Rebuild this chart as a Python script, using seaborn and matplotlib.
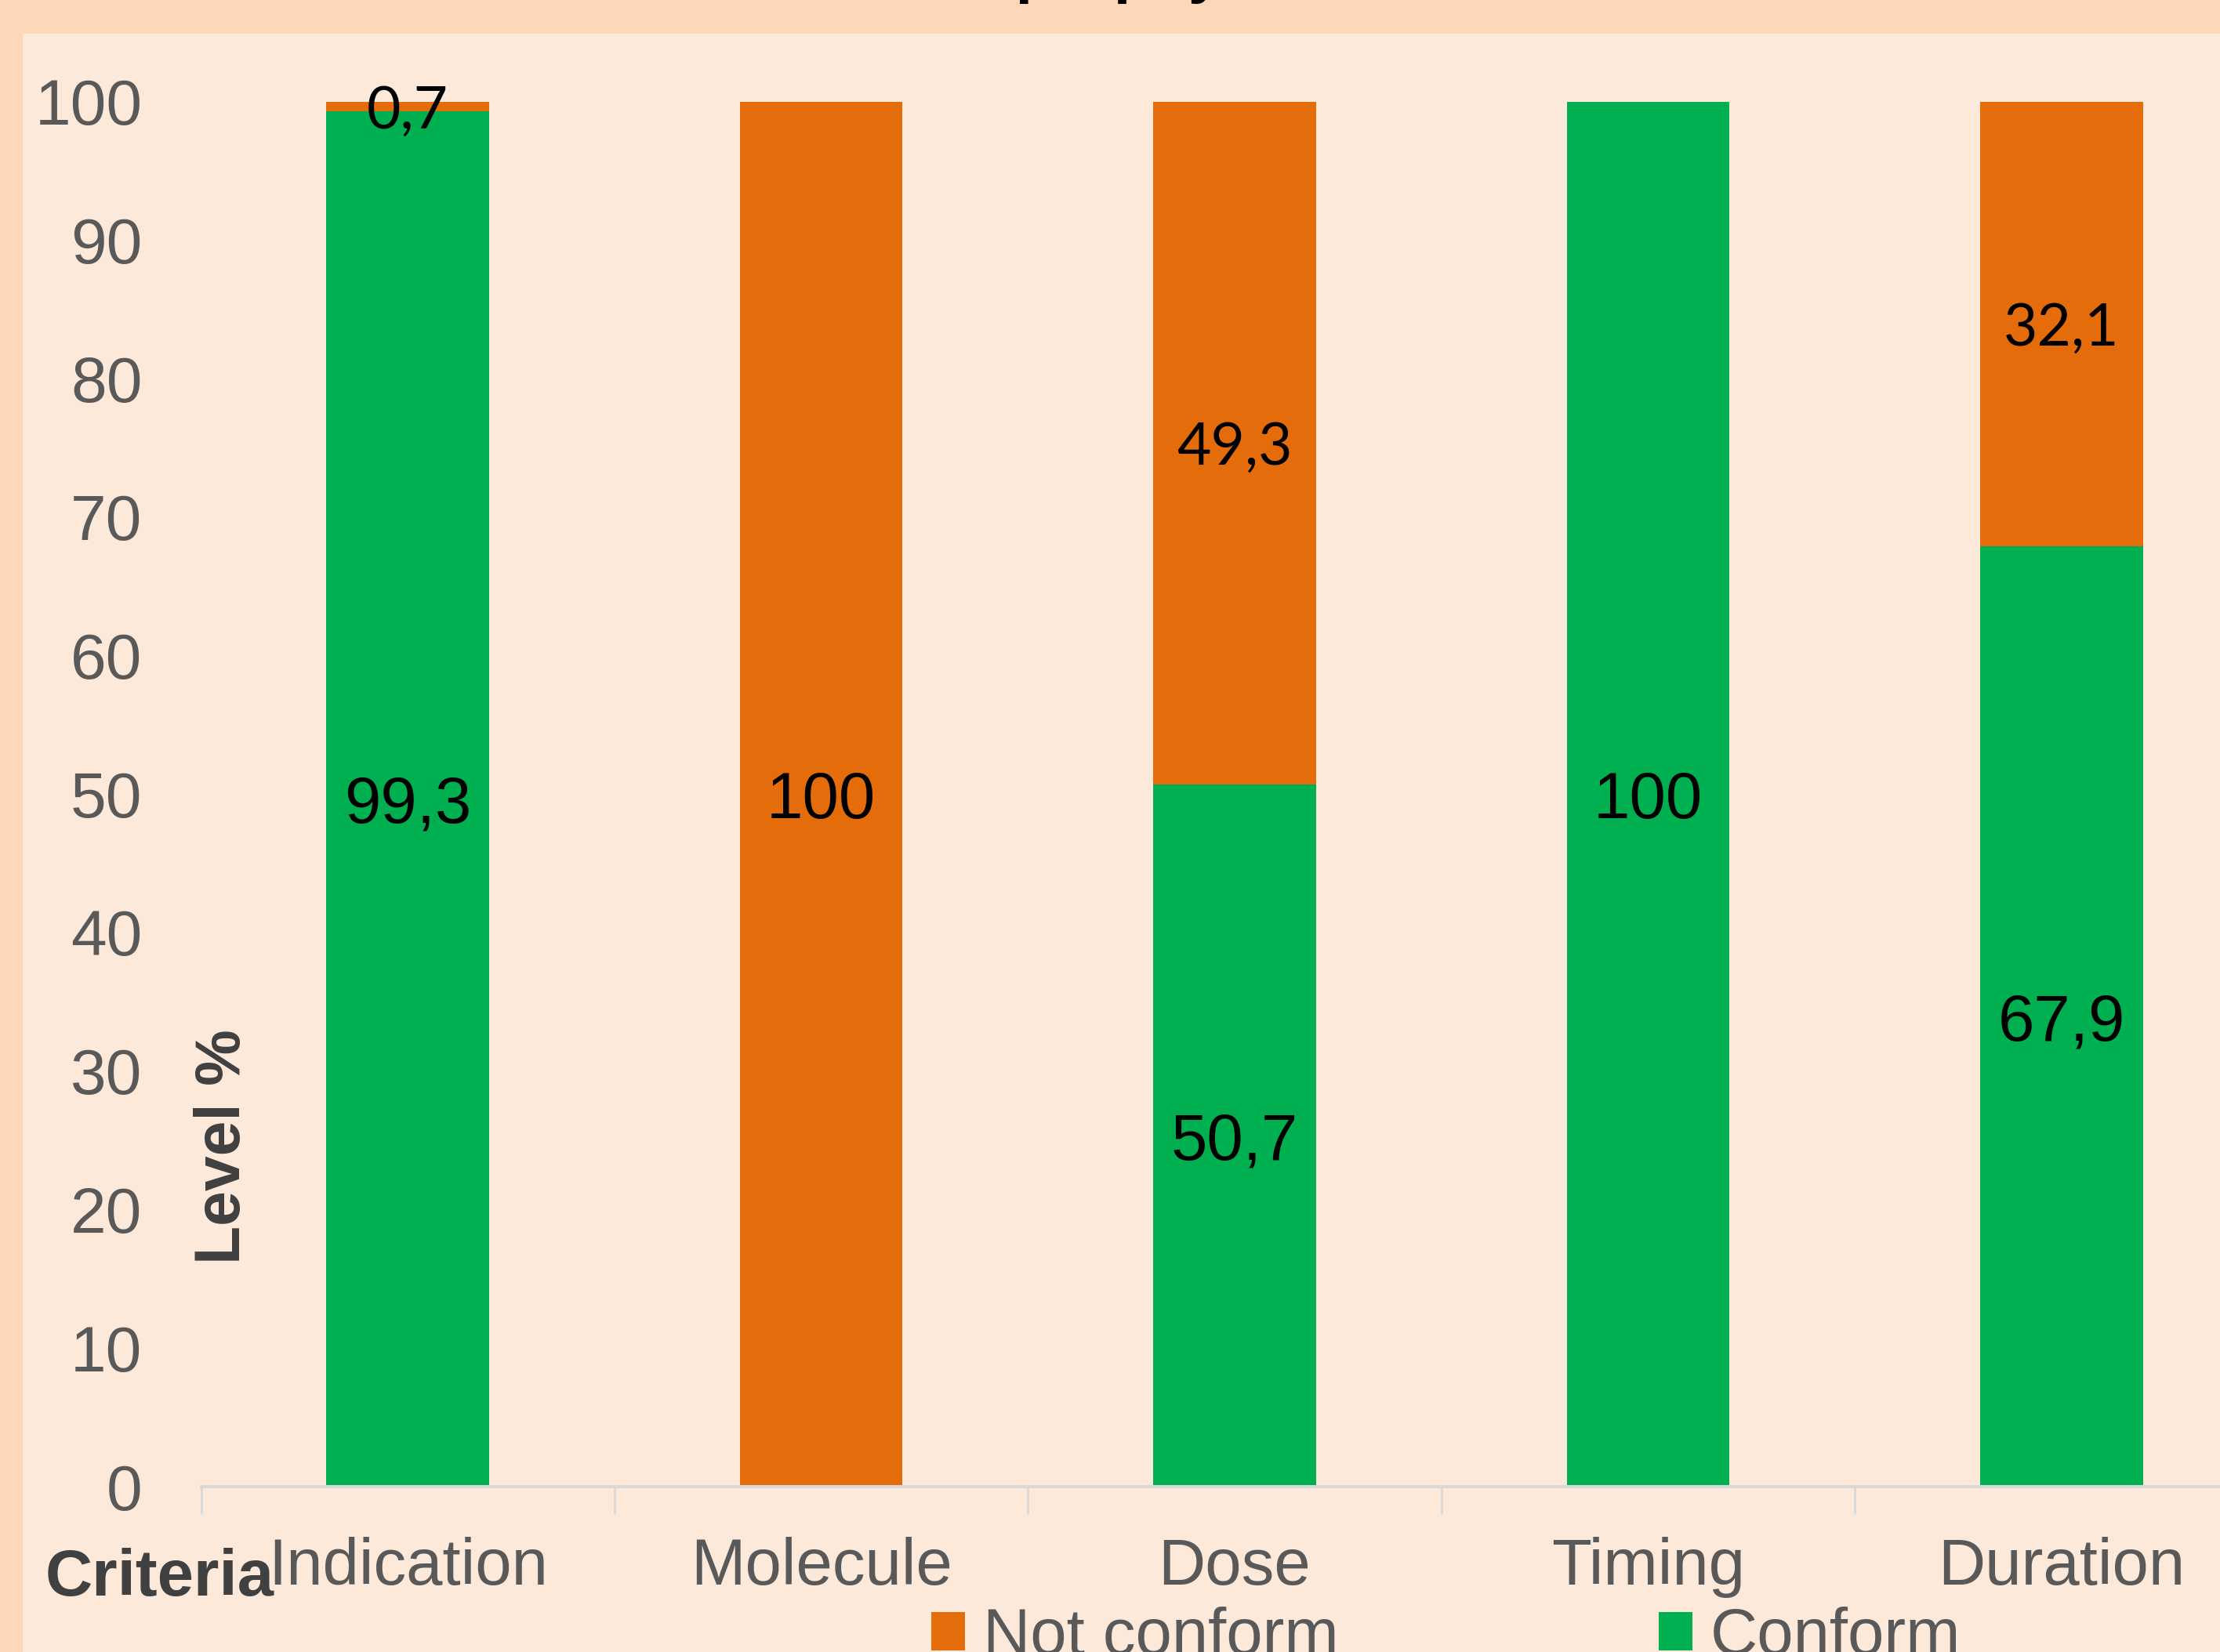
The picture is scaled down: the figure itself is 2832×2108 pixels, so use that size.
import numpy as np
import pandas as pd
import matplotlib
matplotlib.use("Agg")
import matplotlib.pyplot as plt
import seaborn as sns
from matplotlib.patches import Rectangle

# ---------------- data ----------------
categories = ["Indication", "Molecule", "Dose", "Timing", "Duration"]
conform = [99.3, 0.0, 50.7, 100.0, 67.9]
not_conform = [0.7, 100.0, 49.3, 0.0, 32.1]
series_names = ["Not conform", "Conform"]
y_ticks = [0, 10, 20, 30, 40, 50, 60, 70, 80, 90, 100]
title_text = "Antibioprophylaxis"
x_title = "Criteria"
y_title = "Level %"

# ---------------- style ----------------
BAND = "#FCD8B8"
BG = "#FDE9DA"
ORANGE = "#E46C0A"
GREEN = "#00B050"
TICK_GREY = "#595959"
AXIS_GREY = "#D9D9D9"
DARK = "#404040"

sns.set_theme(style="white")
plt.rcParams["font.family"] = ["Liberation Sans", "DejaVu Sans"]

W, H = 2832, 2108
DPI = 200
fig = plt.figure(figsize=(W / DPI, H / DPI), dpi=DPI, facecolor=BAND)
bg_rect = Rectangle((29 / W, 0), 1, 1 - 43 / H, transform=fig.transFigure,
                    facecolor=BG, edgecolor="none", zorder=-10)
fig.patches.append(bg_rect)

ax_left, ax_right = 256.5, 2893.5
ax_bot, ax_top = 1897.0, 129.5
ax = fig.add_axes([ax_left / W, (H - ax_bot) / H, (ax_right - ax_left) / W, (ax_bot - ax_top) / H])
ax.set_facecolor("none")
ax.set_zorder(1)

df = pd.DataFrame({"Criteria": categories, "Conform": conform, "Not conform": not_conform})
df["Total"] = df["Conform"] + df["Not conform"]

BW = 0.394
sns.barplot(data=df, x="Criteria", y="Total", color=ORANGE, width=BW, saturation=1,
            errorbar=None, edgecolor="none", linewidth=0, label=series_names[0], ax=ax)
sns.barplot(data=df, x="Criteria", y="Conform", color=GREEN, width=BW, saturation=1,
            errorbar=None, edgecolor="none", linewidth=0, label=series_names[1], ax=ax)
if ax.get_legend() is not None:
    ax.get_legend().remove()


def fmt(v):
    if float(v).is_integer():
        return str(int(v))
    return f"{v:.1f}".replace(".", ",")


for i, (c, n) in enumerate(zip(conform, not_conform)):
    if c > 0:
        ax.text(i, c / 2, fmt(c), ha="center", va="center_baseline", fontsize=30,
                family=["Liberation Sans", "DejaVu Sans"], color="black")
    if n > 0:
        fam = ["Liberation Sans", "DejaVu Sans"] if n >= 100 else ["Lato", "DejaVu Sans"]
        size = 30 if n >= 100 else 27
        ax.text(i, c + n / 2, fmt(n), ha="center", va="center_baseline", fontsize=size,
                family=fam, color="black")

ax.set_xlim(-0.5, len(categories) - 0.5)
ax.set_ylim(0, 100)
ax.set_yticks(y_ticks)
ax.set_yticklabels([str(t) for t in y_ticks])
ax.tick_params(axis="y", length=0, pad=27, labelsize=29.5, labelcolor=TICK_GREY, left=False)
ax.tick_params(axis="x", which="major", length=0, pad=23, labelsize=30, labelcolor=TICK_GREY)
ax.set_xticks(np.arange(-0.5, len(categories), 1.0), minor=True)
ax.tick_params(axis="x", which="minor", bottom=True, length=12.6, width=1.0,
               color=AXIS_GREY, direction="out")
sns.despine(ax=ax, left=True)
ax.spines["bottom"].set_color(AXIS_GREY)
ax.spines["bottom"].set_linewidth(1.44)
ax.grid(False)

ax.set_xlabel(x_title, fontsize=30, fontweight="bold", color=DARK, ha="left", va="baseline")
ax.xaxis.set_label_coords((58 - ax_left) / (ax_right - ax_left), (ax_bot - 2036) / (ax_bot - ax_top))
ax.set_ylabel(y_title, fontsize=29, fontweight="bold", color=DARK, va="center")
ax.yaxis.set_label_coords((285 - ax_left) / (ax_right - ax_left), (ax_bot - 1463) / (ax_bot - ax_top))

handles = [ax.containers[0], ax.containers[1]]
fig.legend(handles, series_names, loc="upper left", bbox_to_anchor=(1188 / W, 1 - 2050 / H),
           ncol=2, frameon=False, fontsize=30, labelcolor=TICK_GREY,
           handlelength=0.52, handleheight=0.52, handletextpad=0.27, columnspacing=4.9,
           borderpad=0, borderaxespad=0)

fig.text(1380 / W, 1 + 11 / H, title_text, ha="center", va="baseline", fontsize=28,
         fontweight="bold", color="black")

fig.savefig("out.png", dpi=DPI, facecolor=fig.get_facecolor())
